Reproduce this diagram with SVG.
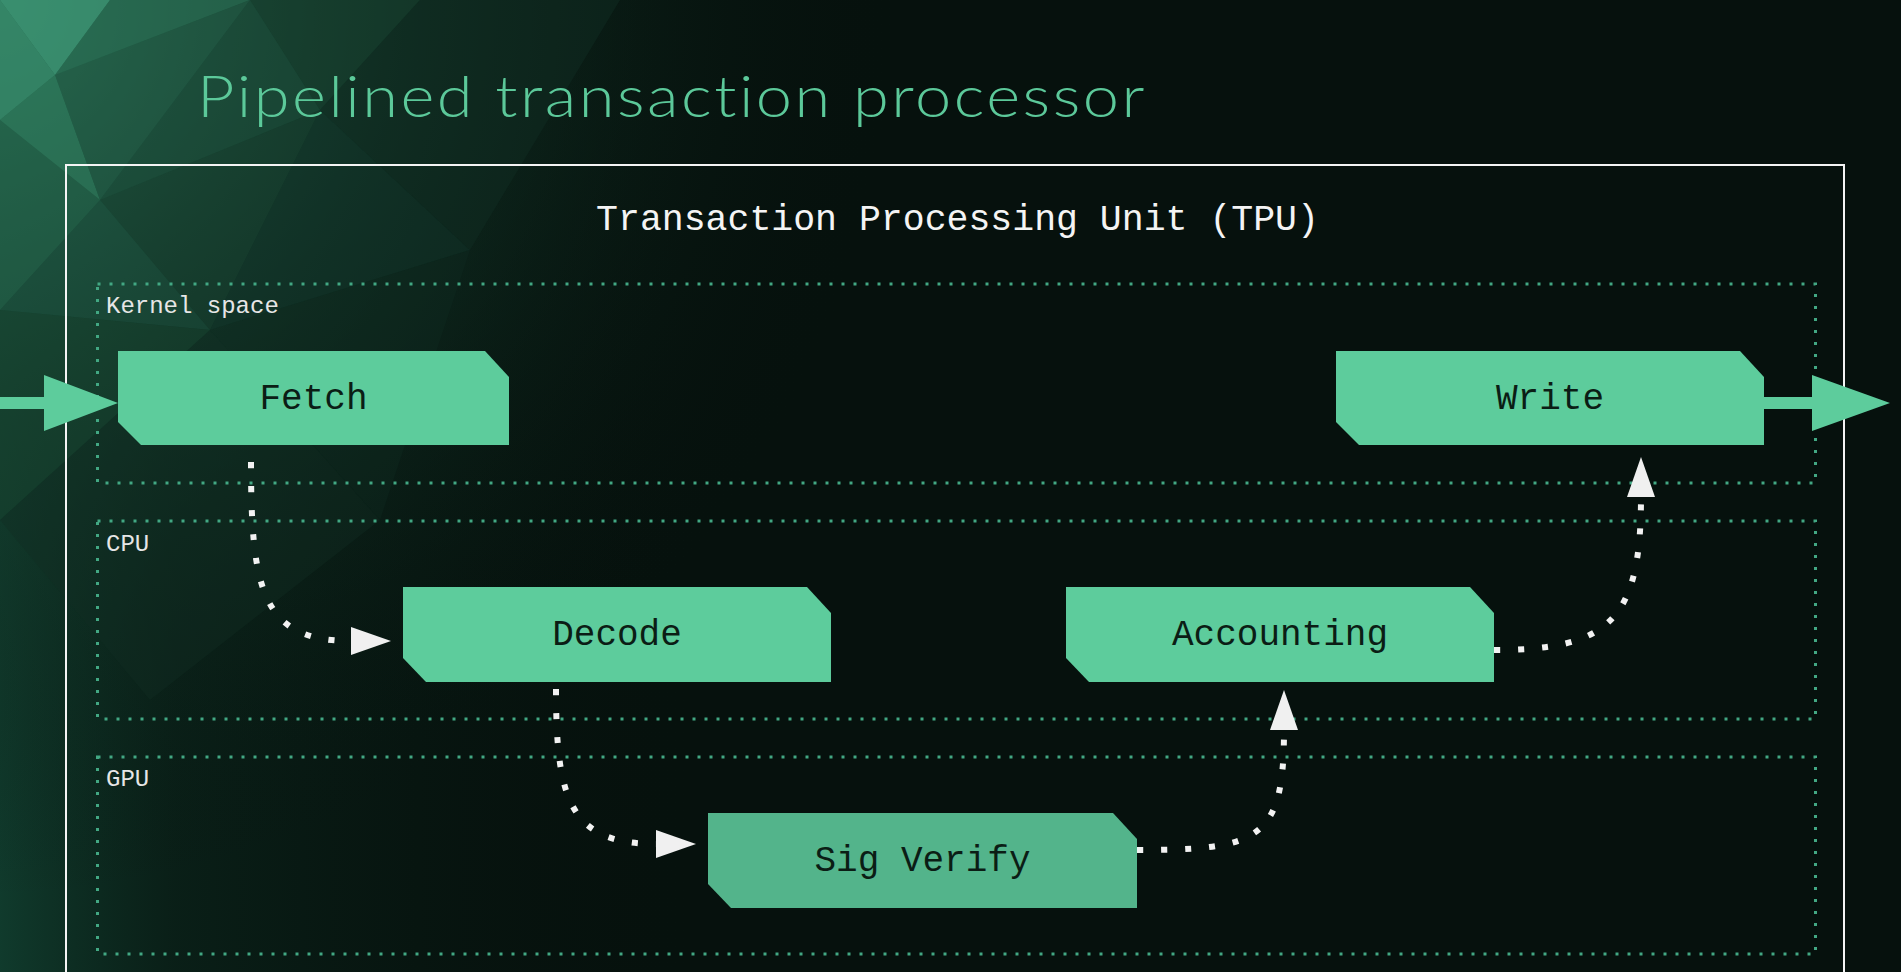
<svg xmlns="http://www.w3.org/2000/svg" width="1901" height="972" viewBox="0 0 1901 972">
<defs>
<style>
.bg-facet{stroke:none}
.title{font-family:"Lato","Open Sans","Liberation Sans",sans-serif;font-weight:300;font-size:58px;fill:#5cc99a;font-variant-ligatures:none}
.mono{font-family:"Liberation Mono","DejaVu Sans Mono",monospace}
.tpu-title{font-size:36.5px;fill:#f4f4f4;text-anchor:middle}
.region{fill:none;stroke:#42a883;stroke-width:3;stroke-dasharray:3 9}
.region-label{font-size:24px;fill:#e6e6e6}
.node-shape{fill:#5dcc9c}
.node-label{font-size:36px;fill:#0b1d15;text-anchor:middle}
.flow{fill:none;stroke:#f2f2f2;stroke-width:6;stroke-dasharray:6 18}
.io{fill:#5dcc9c}
</style>
<linearGradient id="leftGlow" x1="0" y1="0" x2="1" y2="0">
<stop offset="0" stop-color="#124232" stop-opacity="0.85"/>
<stop offset="0.25" stop-color="#0e3024" stop-opacity="0.45"/>
<stop offset="1" stop-color="#06110d" stop-opacity="0"/>
</linearGradient>
<radialGradient id="cornerGlow" cx="0" cy="0" r="900" gradientUnits="userSpaceOnUse">
<stop offset="0" stop-color="#2f7e5f" stop-opacity="0.9"/>
<stop offset="0.45" stop-color="#16402f" stop-opacity="0.55"/>
<stop offset="1" stop-color="#06110d" stop-opacity="0"/>
</radialGradient>
<marker id="arrowHead" viewBox="0 0 40 28" refX="0" refY="14" markerWidth="40" markerHeight="28" markerUnits="userSpaceOnUse" orient="auto">
<path d="M0,0 L40,14 L0,28 Z" fill="#f0f0f0"/>
</marker>
</defs>

<g id="background">
<rect x="0" y="0" width="1901" height="972" fill="#06110d"/>
<rect x="0" y="0" width="700" height="972" fill="url(#leftGlow)"/>
<rect x="0" y="0" width="1100" height="972" fill="url(#cornerGlow)"/>
<polygon class="bg-facet" points="0,0 110,0 55,75" fill="#3d9574" opacity="0.8"/>
<polygon class="bg-facet" points="0,0 55,75 0,120" fill="#378a6a" opacity="0.8"/>
<polygon class="bg-facet" points="110,0 250,0 55,75" fill="#2a6c53" opacity="0.7"/>
<polygon class="bg-facet" points="0,120 55,75 100,200" fill="#2f7a5d" opacity="0.7"/>
<polygon class="bg-facet" points="55,75 250,0 100,200" fill="#235c46" opacity="0.6"/>
<polygon class="bg-facet" points="250,0 420,0 320,110" fill="#18402f" opacity="0.6"/>
<polygon class="bg-facet" points="100,200 250,0 320,110" fill="#1c4c3a" opacity="0.6"/>
<polygon class="bg-facet" points="0,120 100,200 0,310" fill="#25644b" opacity="0.6"/>
<polygon class="bg-facet" points="100,200 320,110 210,330" fill="#173f30" opacity="0.5"/>
<polygon class="bg-facet" points="0,310 100,200 210,330" fill="#1d5140" opacity="0.5"/>
<polygon class="bg-facet" points="0,310 210,330 0,520" fill="#17432f" opacity="0.5"/>
<polygon class="bg-facet" points="210,330 320,110 470,250" fill="#12332a" opacity="0.5"/>
<polygon class="bg-facet" points="320,110 420,0 620,0 470,250" fill="#0f2b21" opacity="0.5"/>
<polygon class="bg-facet" points="210,330 470,250 380,520" fill="#0f2a21" opacity="0.4"/>
<polygon class="bg-facet" points="0,520 210,330 380,520 150,700" fill="#112e24" opacity="0.4"/>
</g>

<text id="slide-title" class="title" transform="scale(1.12,1)" x="175.9" y="117" textLength="846" lengthAdjust="spacing">Pipelined transaction processor</text>

<g id="tpu">
<rect x="66" y="165" width="1778" height="830" fill="none" stroke="#f4f4f4" stroke-width="2"/>
<text class="mono tpu-title" x="957.5" y="230">Transaction Processing Unit (TPU)</text>
</g>

<g id="region-kernel">
<rect class="region" x="97.5" y="284" width="1718" height="199"/>
<text class="mono region-label" x="106" y="313">Kernel space</text>
</g>
<g id="region-cpu">
<rect class="region" x="97.5" y="521" width="1718" height="198"/>
<text class="mono region-label" x="106" y="551">CPU</text>
</g>
<g id="region-gpu">
<rect class="region" x="97.5" y="757" width="1718" height="197"/>
<text class="mono region-label" x="106" y="786">GPU</text>
</g>

<g id="connectors">
<path id="in-arrow" class="io" d="M0,397 H44 V375 L118,403 L44,431 V409 H0 Z"/>
<path id="out-arrow" class="io" d="M1763,397 H1812 V375 L1890,403 L1812,431 V409 H1763 Z"/>
<path id="fetch-decode" class="flow" d="M251,462 C251,590 262,641 351,641" marker-end="url(#arrowHead)"/>
<path id="decode-sigverify" class="flow" d="M556,689 C556,800 570,844 656,844" marker-end="url(#arrowHead)"/>
<path id="sigverify-accounting" class="flow" d="M1137,850 C1260,850 1284,840 1284,730" marker-end="url(#arrowHead)"/>
<path id="accounting-write" class="flow" d="M1494,650 C1610,650 1641,620 1641,497" marker-end="url(#arrowHead)"/>
</g>

<g id="node-fetch">
<path class="node-shape" d="M118,351 H485 L509,377 V445 H141 L118,422 Z"/>
<text class="mono node-label" x="313.5" y="409">Fetch</text>
</g>
<g id="node-decode">
<path class="node-shape" d="M403,587 H807 L831,613 V682 H426 L403,658 Z"/>
<text class="mono node-label" x="617" y="645">Decode</text>
</g>
<g id="node-accounting">
<path class="node-shape" d="M1066,587 H1470 L1494,613 V682 H1089 L1066,658 Z"/>
<text class="mono node-label" x="1280" y="645">Accounting</text>
</g>
<g id="node-write">
<path class="node-shape" d="M1336,351 H1740 L1764,377 V445 H1359 L1336,422 Z"/>
<text class="mono node-label" x="1550" y="409">Write</text>
</g>
<g id="node-sigverify">
<path class="node-shape" d="M708,813 H1113 L1137,839 V908 H731 L708,884 Z" style="fill:#53b48b"/>
<text class="mono node-label" x="922.5" y="871">Sig Verify</text>
</g>
</svg>
